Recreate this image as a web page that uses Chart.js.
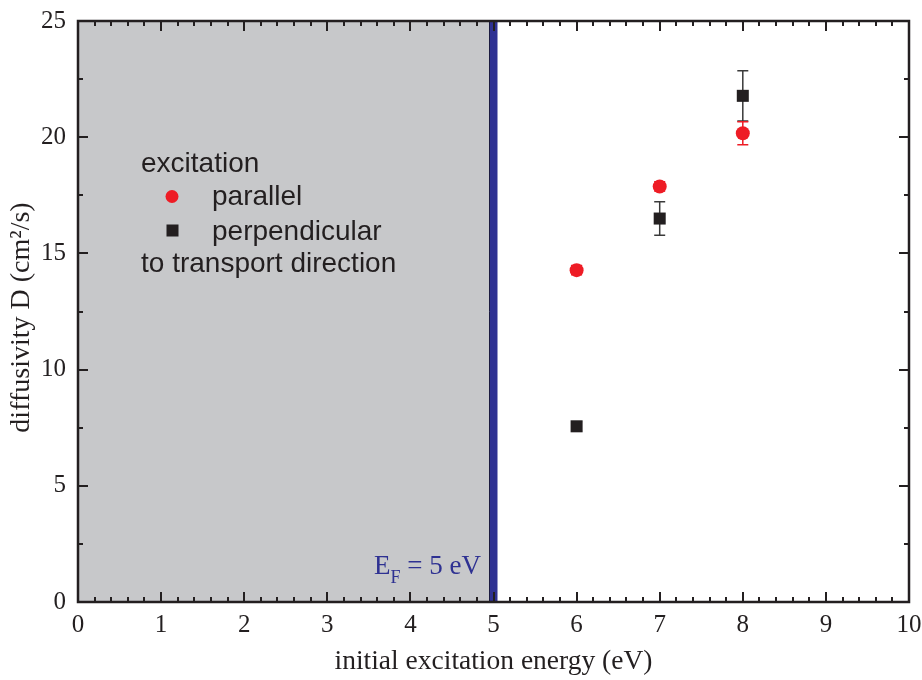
<!DOCTYPE html>
<html>
<head>
<meta charset="utf-8">
<script src="https://cdn.jsdelivr.net/npm/chart.js@4"></script>
<style>
  html, body { margin: 0; padding: 0; background: #fff; }
  #wrap { width: 922px; height: 680px; }
</style>
</head>
<body>
<div id="wrap"><canvas id="chart" width="922" height="680"></canvas></div>
<script>
// 数据
const energies = [6, 7, 8];
const parallelD = [14.28, 17.88, 20.17];
const parallelErr = [0.2, 0.2, 0.5];
const perpD = [7.56, 16.5, 21.78];
const perpErr = [0.2, 0.72, 1.08];

const fermiEnergy = 5;
const xTickLabels = ['0', '1', '2', '3', '4', '5', '6', '7', '8', '9', '10'];
const yTickLabels = ['0', '5', '10', '15', '20', '25'];

const RED = '#ee1c25';
const BLACK = '#231f20';
const BLUE = '#2e3192';
const GRAY = '#c7c8ca';
const SERIF = '"Liberation Serif", "Times New Roman", serif';
const SANS = '"Liberation Sans", Arial, sans-serif';

// 灰色区域和费米能级线
const regionPlugin = {
  id: 'region',
  beforeDatasetsDraw(chart) {
    const { ctx, chartArea: a, scales: { x } } = chart;
    const xF = x.getPixelForValue(fermiEnergy);
    ctx.save();
    ctx.fillStyle = GRAY;
    ctx.fillRect(a.left, a.top, xF - a.left, a.bottom - a.top);
    ctx.fillStyle = BLUE;
    ctx.fillRect(xF - 4, a.top, 8, a.bottom - a.top);
    ctx.strokeStyle = '#1a1a40';
    ctx.lineWidth = 1;
    ctx.beginPath();
    ctx.moveTo(xF - 4, a.top);
    ctx.lineTo(xF - 4, a.bottom);
    ctx.stroke();
    ctx.restore();
  }
};

// 误差棒
const errorBarPlugin = {
  id: 'errorBars',
  beforeDatasetsDraw(chart) {
    const { ctx, scales: { x, y } } = chart;
    const sets = [
      { vals: perpD, errs: perpErr, color: '#3a3a3a' },
      { vals: parallelD, errs: parallelErr, color: RED }
    ];
    ctx.save();
    ctx.lineWidth = 1.5;
    sets.forEach(s => {
      ctx.strokeStyle = s.color;
      energies.forEach((e, i) => {
        const px = x.getPixelForValue(e);
        const y1 = y.getPixelForValue(s.vals[i] + s.errs[i]);
        const y2 = y.getPixelForValue(s.vals[i] - s.errs[i]);
        ctx.beginPath();
        ctx.moveTo(px, y1); ctx.lineTo(px, y2);
        ctx.moveTo(px - 5.5, y1); ctx.lineTo(px + 5.5, y1);
        ctx.moveTo(px - 5.5, y2); ctx.lineTo(px + 5.5, y2);
        ctx.stroke();
      });
    });
    ctx.restore();
  }
};

// 边框、内向刻度、图例和文字
const framePlugin = {
  id: 'frame',
  afterDraw(chart) {
    const { ctx, chartArea: a, scales: { x, y } } = chart;
    ctx.save();
    ctx.strokeStyle = BLACK;
    ctx.lineWidth = 2;
    ctx.beginPath();
    for (let v = 0; v <= 10.001; v += 0.2) {
      const major = Math.abs(v - Math.round(v)) < 0.01;
      const len = major ? 10 : 5;
      const px = Math.round(x.getPixelForValue(v));
      ctx.moveTo(px, a.bottom); ctx.lineTo(px, a.bottom - len);
      ctx.moveTo(px, a.top); ctx.lineTo(px, a.top + len);
    }
    for (let v = 0; v <= 25.001; v += 2.5) {
      const major = v % 5 === 0;
      const len = major ? 10 : 5;
      const py = Math.round(y.getPixelForValue(v));
      ctx.moveTo(a.left, py); ctx.lineTo(a.left + len, py);
      ctx.moveTo(a.right, py); ctx.lineTo(a.right - len, py);
    }
    ctx.stroke();
    ctx.lineWidth = 2.5;
    ctx.strokeRect(a.left, a.top, a.right - a.left, a.bottom - a.top);

    // E_F = 5 eV
    ctx.fillStyle = BLUE;
    ctx.textBaseline = 'alphabetic';
    const main = 'E';
    const rest = ' = 5 eV';
    ctx.font = '18px ' + SERIF;
    const wSub = ctx.measureText('F').width;
    ctx.font = '27px ' + SERIF;
    const wE = ctx.measureText(main).width;
    const wRest = ctx.measureText(rest).width;
    const xEnd = 481;
    let tx = xEnd - (wE + wSub + wRest);
    const base = 574;
    ctx.fillText(main, tx, base);
    ctx.font = '18px ' + SERIF;
    ctx.fillText('F', tx + wE, base + 9);
    ctx.font = '27px ' + SERIF;
    ctx.fillText(rest, tx + wE + wSub, base);

    // y轴标题（手动绘制以便调整位置）
    ctx.fillStyle = BLACK;
    ctx.font = '28px ' + SERIF;
    ctx.translate(22, (a.top + a.bottom) / 2 + 6);
    ctx.rotate(-Math.PI / 2);
    ctx.textAlign = 'center';
    ctx.textBaseline = 'middle';
    ctx.fillText('diffusivity D (cm²/s)', 0, 0);
    ctx.setTransform(1, 0, 0, 1, 0, 0);
    ctx.textAlign = 'left';
    ctx.textBaseline = 'alphabetic';

    // 图例
    ctx.fillStyle = BLACK;
    ctx.font = '28px ' + SANS;
    ctx.fillText('excitation', 141, 172);
    ctx.fillText('parallel', 212, 205);
    ctx.fillText('perpendicular', 212, 240);
    ctx.fillText('to transport direction', 141, 272);
    ctx.fillStyle = RED;
    ctx.beginPath();
    ctx.arc(172, 196.5, 6.5, 0, Math.PI * 2);
    ctx.fill();
    ctx.fillStyle = BLACK;
    ctx.fillRect(166.5, 224.5, 12, 12);
    ctx.restore();
  }
};

const ctx = document.getElementById('chart').getContext('2d');
new Chart(ctx, {
  type: 'scatter',
  data: {
    datasets: [
      {
        label: 'parallel',
        data: energies.map((e, i) => ({ x: e, y: parallelD[i] })),
        pointStyle: 'circle',
        pointRadius: 7,
        pointBackgroundColor: RED,
        pointBorderWidth: 0,
        pointHoverRadius: 7,
      },
      {
        label: 'perpendicular',
        data: energies.map((e, i) => ({ x: e, y: perpD[i] })),
        pointStyle: 'rect',
        pointRadius: 8.5,
        pointBackgroundColor: BLACK,
        pointBorderWidth: 0,
        pointHoverRadius: 8.5,
      }
    ]
  },
  options: {
    responsive: false,
    animation: false,
    layout: { padding: { left: 0, right: 13, top: 21, bottom: 0 } },
    plugins: {
      legend: { display: false },
      tooltip: { enabled: false },
    },
    scales: {
      x: {
        type: 'linear',
        min: 0, max: 10,
        grid: { display: false, drawTicks: false },
        border: { display: false },
        ticks: {
          stepSize: 1,
          padding: 8,
          color: BLACK,
          font: { family: SERIF, size: 25 },
          callback: (v) => xTickLabels[v] ?? '',
        },
        title: {
          display: true,
          text: 'initial excitation energy (eV)',
          color: BLACK,
          font: { family: SERIF, size: 27.5 },
          padding: { top: 0, bottom: 2 },
        },
        afterFit: (s) => { s.height = 78; s.paddingLeft = 0; s.paddingRight = 0; },
      },
      y: {
        type: 'linear',
        min: 0, max: 25,
        grid: { display: false, drawTicks: false },
        border: { display: false },
        ticks: {
          stepSize: 5,
          padding: 12,
          color: BLACK,
          font: { family: SERIF, size: 25 },
          callback: (v) => yTickLabels[v / 5] ?? '',
        },
        afterFit: (s) => { s.width = 78; s.paddingTop = 0; s.paddingBottom = 0; },
      }
    }
  },
  plugins: [regionPlugin, errorBarPlugin, framePlugin]
});
</script>
</body>
</html>
